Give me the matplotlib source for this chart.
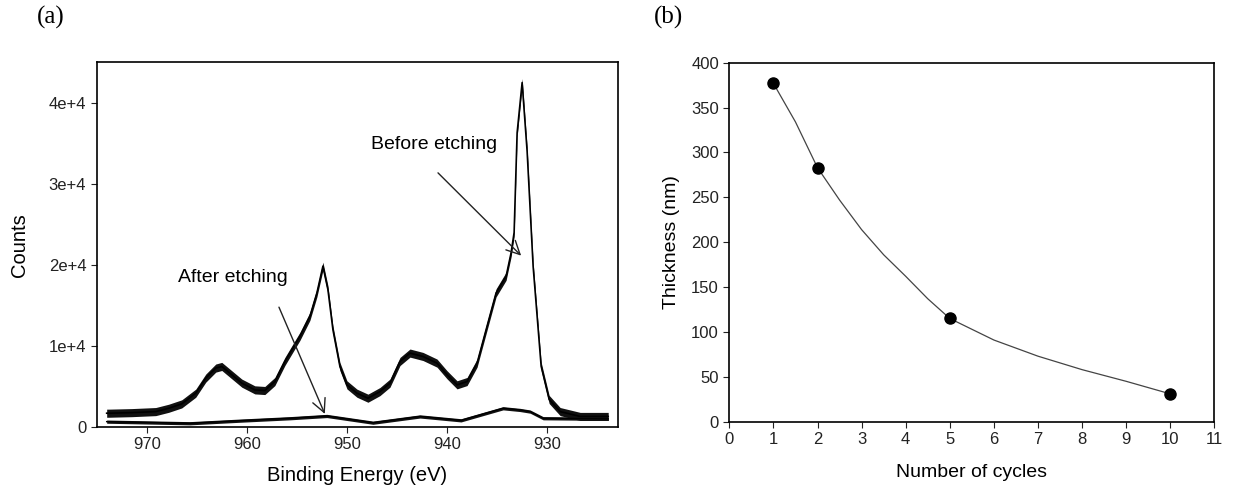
import matplotlib
matplotlib.use('Agg')
import matplotlib.pyplot as plt

plt.rcParams['font.family'] = ['Liberation Sans', 'DejaVu Sans']

# (a) XPS spectrum
energy_before = [974.0, 973.8, 971.5, 969.1, 967.8, 966.5, 965.1, 964.1, 963.1, 962.5, 961.5,
                 960.5, 959.2, 958.2, 957.2, 956.2, 955.2, 954.7, 953.7, 953.0, 952.4, 951.9,
                 951.4, 950.7, 950.0, 949.0, 947.9, 946.7, 945.7, 944.7, 943.7, 942.4, 941.0,
                 940.0, 939.0, 938.0, 937.0, 936.1, 935.1, 934.1, 933.6, 933.3, 933.0, 932.5,
                 932.0, 931.4, 930.6, 929.8, 928.7, 926.7, 923.9]
counts_before = [1700, 1700, 1770, 1900, 2310, 2850, 4170, 6030, 7270, 7470, 6440,
                 5410, 4580, 4500, 5610, 8080, 10150, 11180, 13650, 16550, 19840, 16950,
                 12000, 7460, 5200, 4170, 3550, 4370, 5410, 8080, 9120, 8700, 7880,
                 6440, 5200, 5610, 7880, 12000, 16550, 18600, 21500, 24000, 36300, 42500,
                 34000, 19800, 7500, 3400, 1900, 1300, 1300]

energy_after = [974.0, 965.7, 960.7, 955.7, 952.0, 947.4, 942.7, 938.6, 934.4, 932.7,
                931.7, 930.4, 927.7, 923.9]
counts_after = [660, 460, 780, 1080, 1360, 530, 1300, 820, 2310, 2100,
                1900, 1080, 1050, 1000]

# half-width of the noise band seen on each trace
noise_before = 500
noise_after = 200

# (b) thickness vs cycles
cycles = [1, 2, 5, 10]
thickness = [377, 283, 115, 31]
fit_x = [1, 1.5, 2, 2.5, 3, 3.5, 4, 4.5, 5, 6, 7, 8, 9, 10]
fit_y = [377, 334, 283, 247, 214, 186, 162, 137, 115, 91, 73, 58, 45, 31]

fig = plt.figure(figsize=(12.33, 4.98), dpi=100)

ax1 = fig.add_axes([0.0784, 0.1426, 0.4230, 0.7323])
lo = [c - noise_before for c in counts_before]
hi = [c + noise_before for c in counts_before]
ax1.fill_between(energy_before, lo, hi, color='#111111', lw=0)
ax1.plot(energy_before, counts_before, color='black', lw=1.2)
lo = [c - noise_after for c in counts_after]
hi = [c + noise_after for c in counts_after]
ax1.fill_between(energy_after, lo, hi, color='#111111', lw=0)
ax1.plot(energy_after, counts_after, color='black', lw=1.0)
ax1.set_xlim(975, 922.9)
ax1.set_ylim(0, 45000)
ax1.set_xticks([970, 960, 950, 940, 930])
ax1.set_yticks([0, 10000, 20000, 30000, 40000])
ax1.set_yticklabels(['0', '1e+4', '2e+4', '3e+4', '4e+4'])
ax1.set_xlabel('Binding Energy (eV)', fontsize=14.5, labelpad=10)
ax1.set_ylabel('Counts', fontsize=14.5, labelpad=14)
ax1.tick_params(direction='out', length=4, labelsize=12, colors='#222222')
for s in ax1.spines.values():
    s.set_linewidth(1.2)

ax1.text(941.3, 34900, 'Before etching', ha='center', va='center', fontsize=14)
ax1.annotate('', xy=(932.4, 20900), xytext=(941.1, 31600),
             arrowprops=dict(arrowstyle='->', lw=1.0, mutation_scale=24, color='#222222'))
ax1.text(961.4, 18400, 'After etching', ha='center', va='center', fontsize=14)
ax1.annotate('', xy=(952.1, 1300), xytext=(956.9, 15100),
             arrowprops=dict(arrowstyle='->', lw=1.0, mutation_scale=24, color='#222222'))

ax2 = fig.add_axes([0.5915, 0.1532, 0.3934, 0.7209])
ax2.plot(fit_x, fit_y, color='#444444', lw=0.9)
ax2.plot(cycles, thickness, 'o', color='black', markersize=8)
ax2.set_xlim(0, 11)
ax2.set_ylim(0, 400)
ax2.set_xticks(range(0, 12))
ax2.set_yticks(range(0, 401, 50))
ax2.set_xlabel('Number of cycles', fontsize=14, labelpad=12)
ax2.set_ylabel('Thickness (nm)', fontsize=14, labelpad=8)
ax2.tick_params(direction='out', length=4, labelsize=12, colors='#222222')
for s in ax2.spines.values():
    s.set_linewidth(1.2)

fig.text(0.0298, 0.965, '(a)', family='Liberation Serif', fontsize=18, va='center')
fig.text(0.530, 0.965, '(b)', family='Liberation Serif', fontsize=18, va='center')

fig.savefig('out.png', dpi=100)
